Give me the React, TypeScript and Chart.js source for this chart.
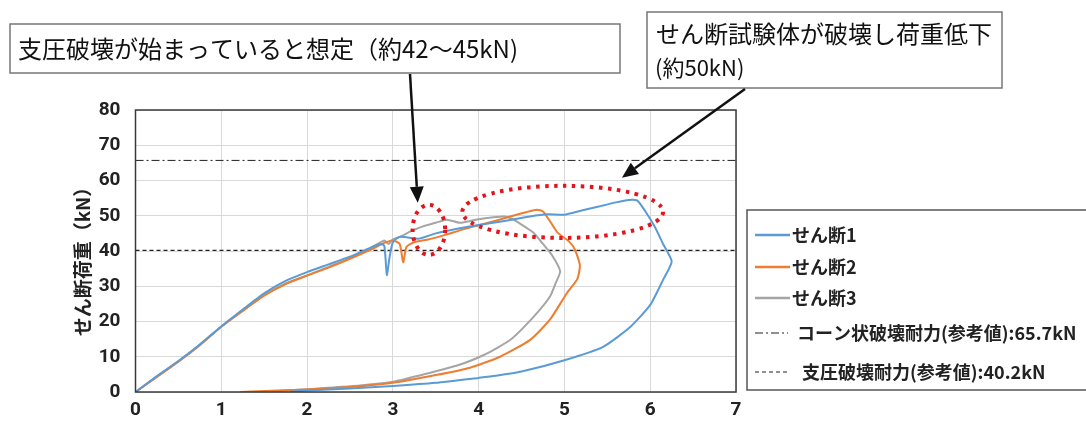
import React, { useEffect, useRef } from "react";
import { Chart, registerables } from "chart.js";

Chart.register(...registerables);

// ---- data ----
const s1X = [0, 0.25, 0.5, 0.75, 1.0, 1.25, 1.5, 1.75, 2.0, 2.25, 2.5, 2.7, 2.85, 2.9, 2.93, 2.96, 3.0, 3.08, 3.3, 3.5, 3.75, 4.0, 4.3, 4.6, 4.8, 5.0, 5.2, 5.4, 5.6, 5.75, 5.85, 5.95, 6.05, 6.15, 6.25, 6.15, 6.0, 5.77, 5.45, 5.0, 4.5, 4.2, 4.0, 3.5, 3.0, 2.5, 2.0, 1.8];
const s1Y = [0, 4.5, 8.8, 13.5, 18.6, 23.4, 28.0, 31.5, 34.0, 36.2, 38.4, 40.5, 42.0, 41.5, 33.2, 38.0, 42.5, 44.0, 43.5, 45.0, 46.3, 47.4, 48.5, 49.8, 50.4, 50.3, 51.5, 52.6, 53.8, 54.5, 54.3, 51.0, 47.0, 42.0, 37.0, 31.8, 24.7, 18.5, 12.8, 9.0, 5.8, 4.6, 4.0, 2.6, 1.7, 1.0, 0.4, 0.1];

const s2X = [0, 0.25, 0.5, 0.75, 1.0, 1.25, 1.5, 1.75, 2.0, 2.25, 2.5, 2.75, 2.9, 3.0, 3.08, 3.12, 3.16, 3.25, 3.4, 3.6, 3.8, 4.0, 4.2, 4.4, 4.55, 4.68, 4.75, 4.83, 4.92, 5.05, 5.12, 5.18, 5.15, 5.03, 4.83, 4.6, 4.25, 3.9, 3.5, 3.0, 2.5, 2.0, 1.5, 1.22];
const s2Y = [0, 4.3, 8.6, 13.3, 18.5, 23.0, 27.3, 30.6, 33.0, 35.3, 37.8, 40.5, 42.3, 43.0, 42.0, 36.8, 41.2, 42.5, 43.2, 44.5, 46.0, 47.3, 48.6, 50.0, 51.0, 51.7, 51.2, 48.5, 45.2, 42.8, 40.5, 36.0, 32.0, 28.1, 20.5, 14.8, 10.0, 6.9, 4.8, 2.6, 1.4, 0.7, 0.3, 0];

const s3X = [0, 0.25, 0.5, 0.75, 1.0, 1.25, 1.5, 1.75, 2.0, 2.25, 2.5, 2.75, 2.9, 2.95, 3.0, 3.1, 3.2, 3.35, 3.5, 3.63, 3.78, 3.9, 4.0, 4.15, 4.3, 4.4, 4.5, 4.64, 4.75, 4.85, 4.95, 4.9, 4.83, 4.64, 4.37, 4.06, 3.75, 3.47, 3.0, 2.5, 2.0, 1.6];
const s3Y = [0, 4.4, 8.7, 13.4, 18.6, 23.1, 27.5, 30.8, 33.1, 35.5, 38.0, 41.0, 43.0, 42.0, 43.3, 44.2, 45.5, 47.0, 48.0, 48.9, 48.0, 48.5, 49.0, 49.5, 49.8, 49.0, 47.5, 45.2, 42.0, 39.0, 34.3, 31.0, 27.0, 21.3, 14.8, 10.5, 7.5, 5.7, 2.9, 1.6, 0.8, 0.2];

const seriesLabels = ["せん断1", "せん断2", "せん断3"];
const seriesColors = ["#5b9bd5", "#ed7d31", "#a5a5a5"];

const coneLabel = "コーン状破壊耐力(参考値):65.7kN";
const coneValue = 65.7;
const bearingLabel = "支圧破壊耐力(参考値):40.2kN";
const bearingValue = 40.2;

const xRange = [0, 7];
const yRange = [0, 80];
const xStep = 1;
const yStep = 10;

const yTitle = "せん断荷重（kN）";
const note1 = "支圧破壊が始まっていると想定（約42～45kN)";
const note2a = "せん断試験体が破壊し荷重低下";
const note2b = "(約50kN)";

// annotation targets in data units
const smallEllipse = { x: 3.42, y: 46, rx: 0.19, ry: 7.1 };
const bigEllipse = { x: 4.98, y: 51.1, rx: 1.17, ry: 7.4 };
const arrow1Tip = { x: 3.29, y: 53.7 };
const arrow2Tip = { x: 5.67, y: 60.8 };

const JP = '"Noto Sans CJK JP", "Noto Sans", sans-serif';
const NUM = '"Liberation Sans Narrow", "Roboto", "Noto Sans CJK JP", sans-serif';

function pts(xs: number[], ys: number[]) {
  return xs.map((x, i) => ({ x, y: ys[i] }));
}

function drawArrow(ctx: CanvasRenderingContext2D, x1: number, y1: number, x2: number, y2: number) {
  const ang = Math.atan2(y2 - y1, x2 - x1);
  const len = 16;
  const w = 7;
  const bx = x2 - len * Math.cos(ang);
  const by = y2 - len * Math.sin(ang);
  ctx.save();
  ctx.strokeStyle = "#111";
  ctx.fillStyle = "#111";
  ctx.lineWidth = 2.5;
  ctx.beginPath();
  ctx.moveTo(x1, y1);
  ctx.lineTo(bx, by);
  ctx.stroke();
  ctx.beginPath();
  ctx.moveTo(x2, y2);
  ctx.lineTo(bx + w * Math.sin(ang), by - w * Math.cos(ang));
  ctx.lineTo(bx - w * Math.sin(ang), by + w * Math.cos(ang));
  ctx.closePath();
  ctx.fill();
  ctx.restore();
}

const overlayPlugin = {
  id: "overlay",
  afterDraw(chart: any) {
    const ctx: CanvasRenderingContext2D = chart.ctx;
    const { left, right, top, bottom } = chart.chartArea;
    const xs = chart.scales.x;
    const ys = chart.scales.y;

    // plot border
    ctx.save();
    ctx.strokeStyle = "#3a3a3a";
    ctx.lineWidth = 1.5;
    ctx.strokeRect(left, top, right - left, bottom - top);
    ctx.restore();

    // y title
    ctx.save();
    ctx.translate(83, 257);
    ctx.rotate(-Math.PI / 2);
    ctx.fillStyle = "#222";
    ctx.font = `bold 19px ${JP}`;
    ctx.textAlign = "center";
    ctx.textBaseline = "middle";
    ctx.fillText(yTitle, 0, 0);
    ctx.restore();

    // legend
    ctx.save();
    ctx.fillStyle = "#fff";
    ctx.fillRect(747, 210, 360, 180);
    ctx.strokeStyle = "#555";
    ctx.lineWidth = 1.5;
    ctx.strokeRect(747, 210, 360, 180);
    const rows = [235, 267, 298, 333, 372];
    chart.data.datasets.forEach((ds: any, i: number) => {
      const yy = rows[i];
      ctx.save();
      ctx.strokeStyle = ds.borderColor;
      ctx.lineWidth = i < 3 ? 2.5 : 1.2;
      ctx.setLineDash(ds.borderDash || []);
      ctx.beginPath();
      ctx.moveTo(755, yy);
      ctx.lineTo(i < 3 ? 790 : 788, yy);
      ctx.stroke();
      ctx.restore();
      ctx.fillStyle = "#222";
      ctx.font = `bold 18px ${JP}`;
      ctx.textBaseline = "middle";
      ctx.textAlign = "left";
      ctx.fillText(ds.label, i < 3 ? 792 : i === 3 ? 797 : 802, yy);
    });
    ctx.restore();

    // text boxes
    ctx.save();
    ctx.fillStyle = "#fff";
    ctx.strokeStyle = "#777";
    ctx.lineWidth = 1.5;
    ctx.fillRect(10, 24, 610, 49);
    ctx.strokeRect(10, 24, 610, 49);
    ctx.fillRect(647, 12, 355, 76);
    ctx.strokeRect(647, 12, 355, 76);
    ctx.fillStyle = "#111";
    ctx.textBaseline = "middle";
    ctx.textAlign = "left";
    ctx.font = `24px ${JP}`;
    ctx.fillText(note1, 18, 49);
    ctx.font = `24px ${JP}`;
    ctx.fillText(note2a, 656, 34);
    ctx.font = `22px ${JP}`;
    ctx.fillText(note2b, 655, 68);
    ctx.restore();

    // ellipses
    ctx.save();
    ctx.strokeStyle = "#e3141c";
    ctx.lineWidth = 4;
    ctx.setLineDash([3.5, 5.5]);
    for (const e of [smallEllipse, bigEllipse]) {
      const cx = xs.getPixelForValue(e.x);
      const cy = ys.getPixelForValue(e.y);
      const rx = xs.getPixelForValue(e.x + e.rx) - cx;
      const ry = cy - ys.getPixelForValue(e.y + e.ry);
      ctx.beginPath();
      ctx.ellipse(cx, cy, rx, ry, 0, 0, Math.PI * 2);
      ctx.stroke();
    }
    ctx.restore();

    // arrows
    drawArrow(ctx, 410, 74, xs.getPixelForValue(arrow1Tip.x), ys.getPixelForValue(arrow1Tip.y));
    drawArrow(ctx, 745, 89, xs.getPixelForValue(arrow2Tip.x), ys.getPixelForValue(arrow2Tip.y));
  },
};

export default function App() {
  const ref = useRef<HTMLCanvasElement | null>(null);
  useEffect(() => {
    if (!ref.current) return;
    const datasets: any[] = [
      ...[pts(s1X, s1Y), pts(s2X, s2Y), pts(s3X, s3Y)].map((d, i) => ({
        label: seriesLabels[i],
        data: d,
        borderColor: seriesColors[i],
        backgroundColor: seriesColors[i],
        borderWidth: 2,
        showLine: true,
        pointRadius: 0,
        tension: 0.2,
      })),
      {
        label: coneLabel,
        data: [{ x: xRange[0], y: coneValue }, { x: xRange[1], y: coneValue }],
        borderColor: "#222",
        borderWidth: 1,
        borderDash: [8, 3, 2, 3],
        showLine: true,
        pointRadius: 0,
      },
      {
        label: bearingLabel,
        data: [{ x: xRange[0], y: bearingValue }, { x: xRange[1], y: bearingValue }],
        borderColor: "#222",
        borderWidth: 1.2,
        borderDash: [4, 3],
        showLine: true,
        pointRadius: 0,
      },
    ];
    const chart = new Chart(ref.current, {
      type: "scatter",
      data: { datasets },
      options: {
        animation: false,
        responsive: false,
        devicePixelRatio: 1,
        layout: { padding: { left: 0, right: 350, top: 110, bottom: 0 } },
        plugins: { legend: { display: false }, tooltip: { enabled: false } },
        scales: {
          x: {
            type: "linear",
            min: xRange[0],
            max: xRange[1],
            ticks: { stepSize: xStep, padding: 7, color: "#222", font: { family: NUM, size: 19, weight: "bold" } },
            grid: { color: "#d9d9d9", drawTicks: false },
            border: { display: false },
            afterFit: (s: any) => { s.height = 31; },
          },
          y: {
            type: "linear",
            min: yRange[0],
            max: yRange[1],
            ticks: { stepSize: yStep, padding: 15, color: "#222", font: { family: NUM, size: 19, weight: "bold" } },
            grid: { color: "#d9d9d9", drawTicks: false },
            border: { display: false },
            afterFit: (s: any) => { s.width = 135.5; },
          },
        },
      } as any,
      plugins: [overlayPlugin],
    });
    return () => chart.destroy();
  }, []);
  return (
    <div style={{ position: "fixed", left: 0, top: 0, width: 1086, height: 423, background: "#fff" }}>
      <canvas ref={ref} width={1086} height={423} />
    </div>
  );
}
